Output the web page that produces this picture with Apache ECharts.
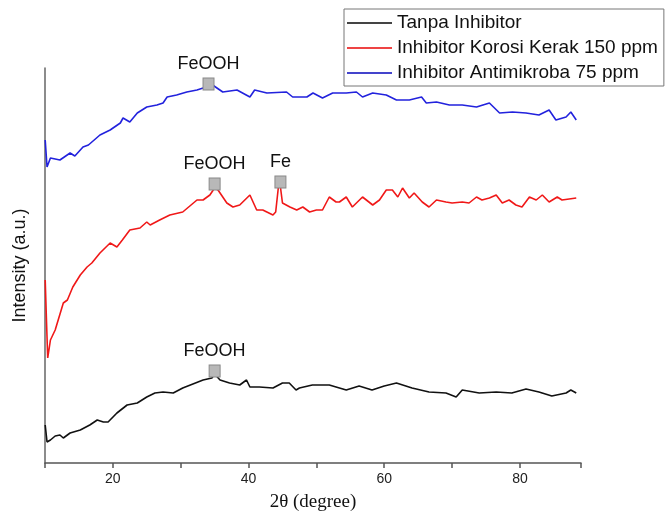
<!DOCTYPE html>
<html>
<head>
<meta charset="utf-8">
<script src="https://cdn.jsdelivr.net/npm/echarts@6/dist/echarts.min.js"></script>
<style>html,body{margin:0;padding:0;background:#fff;}#c{width:666px;height:515px;}</style>
</head>
<body>
<div id="c"></div>
<script>
// Series names
const seriesNames = ['Tanpa Inhibitor', 'Inhibitor Korosi Kerak 150 ppm', 'Inhibitor Antimikroba 75 ppm'];
const xTickLabels = [20, 40, 60, 80];

// Tanpa Inhibitor: [2theta, intensity (a.u., stacked offset)]
const tanpaInhibitor = [
  [10.03,38],[10.3,21],[10.8,23],[11.5,27],[12.2,28],[12.7,25],[13.7,30],[15.2,33],[16.6,38],[17.7,43],
  [18.6,41],[19.3,41],[20.6,50],[22.1,58],[23.6,60],[25.0,66],[26.2,70],[27.4,71],[28.9,70],[30.3,75],
  [31.8,79],[33.3,83],[34.6,85],[35.0,89],[35.8,83],[37.2,80],[38.7,78],[39.7,83],[40.2,76],[41.6,76],
  [43.6,75],[45.0,80],[46.0,80],[47.0,73],[47.5,75],[49.4,78],[51.9,78],[54.4,73],[56.3,77],[58.2,73],
  [60.0,77],[61.8,80],[64.1,75],[66.6,71],[69.1,70],[70.6,66],[71.5,73],[74.0,70],[76.5,71],[78.8,70],
  [80.9,74],[82.8,71],[84.7,67],[86.8,70],[87.5,73],[88.3,70]
];

// Inhibitor Korosi Kerak 150 ppm
const korosiKerak = [
  [10.03,183],[10.2,146],[10.4,105],[10.8,123],[11.5,133],[12.7,160],[13.3,163],[14.1,176],[15.2,188],[16.2,196],
  [16.9,200],[18.1,210],[19.6,220],[20.6,216],[21.4,223],[22.5,233],[24.0,235],[25.0,241],[25.5,238],[26.9,243],
  [28.4,248],[30.3,251],[32.4,263],[33.3,263],[34.3,268],[35.0,275],[35.5,273],[36.8,260],[37.7,256],[38.7,258],
  [40.2,268],[41.2,253],[42.1,253],[43.6,248],[44.0,251],[44.4,276],[44.7,276],[45.0,260],[46.1,256],[47.1,253],
  [48.0,256],[49.0,251],[50.0,253],[50.9,253],[51.9,266],[52.9,261],[53.4,261],[54.4,266],[55.3,256],[56.8,266],
  [58.3,258],[59.3,263],[60.3,273],[61.2,273],[62.0,266],[62.7,275],[63.7,265],[64.4,270],[65.6,261],[66.6,256],
  [67.7,263],[69.1,261],[70.0,260],[71.5,261],[72.5,260],[73.6,266],[74.4,263],[75.5,265],[76.5,268],[77.4,260],
  [78.4,263],[79.4,258],[80.3,256],[81.4,266],[82.4,263],[83.3,268],[84.3,261],[85.5,266],[86.2,263],[88.3,265]
];

// Inhibitor Antimikroba 75 ppm
const antimikroba = [
  [10.03,323],[10.3,296],[10.8,305],[12.2,303],[13.7,310],[14.4,307],[15.6,316],[16.4,318],[18.1,328],[19.6,333],
  [21.1,340],[21.5,345],[22.5,341],[23.6,350],[25.0,356],[26.5,358],[27.4,360],[28.0,366],[29.4,368],[30.9,371],
  [32.4,373],[33.3,375],[34.1,380],[34.7,378],[36.2,371],[38.3,373],[40.2,366],[40.9,373],[42.7,370],[45.6,371],
  [46.5,366],[48.6,366],[49.5,370],[50.9,365],[52.4,370],[54.4,370],[55.9,371],[56.8,366],[58.3,370],[60.3,368],
  [61.8,363],[63.7,363],[65.5,366],[66.2,360],[67.7,361],[69.6,358],[71.5,358],[73.6,356],[75.5,360],[77.0,350],
  [78.9,351],[80.9,350],[82.8,348],[84.3,353],[85.3,343],[86.8,346],[87.5,351],[88.3,343]
];

// Phase markers: [2theta, intensity, label]
const peakX = [35.0, 35.0, 44.7, 34.1];
const peakY = [92, 279, 281, 379];
const peakLabels = ['FeOOH', 'FeOOH', 'Fe', 'FeOOH'];

const sans = 'Liberation Sans, Arial, sans-serif';
const markerData = peakX.map((x, i) => ({ value: [x, peakY[i]], label: { formatter: peakLabels[i] } }));

const chart = echarts.init(document.getElementById('c'), null, { renderer: 'canvas' });
chart.setOption({
  animation: false,
  backgroundColor: '#ffffff',
  grid: { left: 45, right: 85, top: 68, bottom: 52, containLabel: false, outerBoundsMode: 'none' },
  legend: {
    data: [
      { name: seriesNames[0], itemStyle: { color: '#444444' } },
      { name: seriesNames[1], itemStyle: { color: '#ee4444' } },
      { name: seriesNames[2], itemStyle: { color: '#4444cc' } }
    ],
    orient: 'vertical',
    left: 344,
    top: 9,
    padding: [4, 6, 3, 3],
    itemGap: 5,
    icon: 'rect',
    itemWidth: 45,
    itemHeight: 2,
    borderColor: '#777',
    borderWidth: 1,
    textStyle: { fontFamily: sans, fontSize: 19, color: '#111', lineHeight: 20 }
  },
  xAxis: {
    type: 'value',
    min: 10,
    max: 89,
    interval: 10,
    name: '2θ (degree)',
    nameLocation: 'middle',
    nameGap: 30,
    nameTextStyle: { fontFamily: 'Liberation Serif, Times New Roman, serif', fontSize: 19, color: '#111' },
    axisLine: { lineStyle: { color: '#555', width: 1.5 } },
    axisTick: { show: true, length: 5, lineStyle: { color: '#555', width: 1.5 } },
    axisLabel: {
      fontFamily: sans, fontSize: 14, color: '#222', margin: 9,
      formatter: v => (xTickLabels.indexOf(v) >= 0 ? String(v) : '')
    },
    splitLine: { show: false }
  },
  yAxis: {
    type: 'value',
    min: 0,
    max: 395,
    name: 'Intensity (a.u.)',
    nameLocation: 'middle',
    nameGap: 16,
    nameTextStyle: { fontFamily: sans, fontSize: 18, color: '#111' },
    axisLine: { show: true, lineStyle: { color: '#666', width: 1.5 } },
    axisTick: { show: false },
    axisLabel: { show: false },
    splitLine: { show: false }
  },
  series: [
    { name: seriesNames[0], type: 'line', data: tanpaInhibitor, symbol: 'none', color: '#111111', lineStyle: { width: 1.6, color: '#111111' } },
    { name: seriesNames[1], type: 'line', data: korosiKerak, symbol: 'none', color: '#f01818', lineStyle: { width: 1.6, color: '#f01818' } },
    { name: seriesNames[2], type: 'line', data: antimikroba, symbol: 'none', color: '#2222dd', lineStyle: { width: 1.6, color: '#2222dd' } },
    {
      name: 'markers', type: 'scatter', data: markerData, symbol: 'rect', symbolSize: [11, 12],
      itemStyle: { color: '#b8b8b8', borderColor: '#888', borderWidth: 1, opacity: 1 },
      label: { show: true, position: 'top', distance: 4, fontFamily: sans, fontSize: 18, color: '#111' },
      z: 5
    }
  ]
});
</script>
</body>
</html>
